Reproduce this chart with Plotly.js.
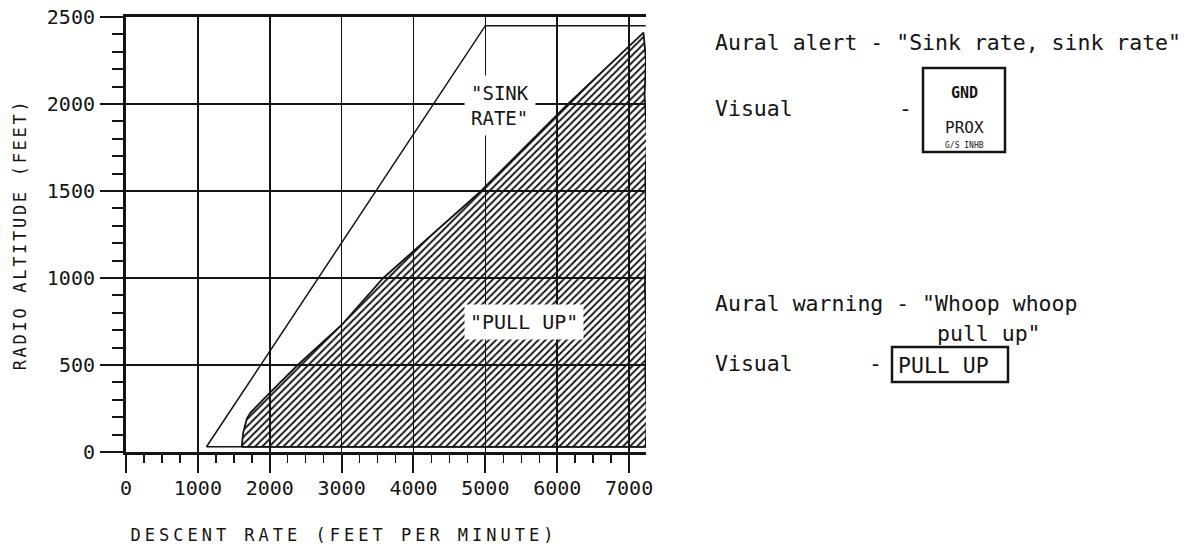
<!DOCTYPE html>
<html>
<head>
<meta charset="utf-8">
<script src="https://cdn.plot.ly/plotly-3.0.1.min.js"></script>
<style>
  html, body { margin: 0; padding: 0; background: #fff; }
  #chart { width: 1191px; height: 553px; }
  .xtitle { letter-spacing: 4px; transform: translate(-42px, 0px); }
  .ytitle { letter-spacing: 2.7px; }
</style>
</head>
<body>
<div id="chart"></div>
<script>
// ---- data ----
const xTickVals = [0, 1000, 2000, 3000, 4000, 5000, 6000, 7000];
const xTickText = ["0", "1000", "2000", "3000", "4000", "5000", "6000", "7000"];
const yTickVals = [0, 500, 1000, 1500, 2000, 2500];
const yTickText = ["0", "500", "1000", "1500", "2000", "2500"];

// "Sink rate" envelope (outer boundary, unfilled)
const sinkRateX = [7230, 1120, 5000, 7230];
const sinkRateY = [30, 30, 2450, 2450];

// "Pull up" envelope (hatched region), incl. torn right edge
const pullUpX = [1610, 1630, 1680, 1730, 2000, 2390, 3000, 3580, 4940, 6150, 7200,
                 7235, 7215, 7250, 7225, 7245, 7220, 7240, 7225, 7250, 7230, 1610];
const pullUpY = [30, 110, 190, 225, 340, 500, 730, 1000, 1500, 2000, 2410,
                 2250, 2050, 1800, 1550, 1250, 950, 700, 450, 200, 30, 30];

const sinkLabel = '"SINK<br>RATE"';
const sinkLabelPos = [5200, 1990];
const pullLabel = '"PULL UP"';
const pullLabelPos = [5535, 750];

const auralAlert = 'Aural alert - "Sink rate, sink rate"';
const auralWarning1 = 'Aural warning - "Whoop whoop';
const auralWarning2 = 'pull up"';
const visualText = 'Visual';

const xTitle = 'DESCENT RATE (FEET PER MINUTE)';
const yTitle = 'RADIO ALTITUDE (FEET)';

// ---- layout helpers (pixel -> paper) ----
const L = 126, W = 520, T = 17, H = 435;
const px = v => (v - L) / W;
const py = v => (T + H - v) / H;

const mono = "DejaVu Sans Mono, monospace";
const ink = "#141414";

const traces = [
  {
    x: pullUpX, y: pullUpY, type: 'scatter', mode: 'lines',
    fill: 'toself',
    fillpattern: { shape: '/', size: 5, solidity: 0.38, fgcolor: ink, bgcolor: 'rgba(0,0,0,0)' },
    line: { color: ink, width: 1.8 },
    hoverinfo: 'skip', showlegend: false
  },
  {
    x: sinkRateX, y: sinkRateY, type: 'scatter', mode: 'lines',
    line: { color: ink, width: 1.5 },
    hoverinfo: 'skip', showlegend: false
  }
];

function txt(x, y, text, size, opts) {
  return Object.assign({
    xref: 'paper', yref: 'paper', x: px(x), y: py(y), text: text,
    showarrow: false, xanchor: 'left', yanchor: 'middle',
    font: { family: mono, size: size, color: ink }
  }, opts || {});
}

const annotations = [
  {
    x: sinkLabelPos[0], y: sinkLabelPos[1], xref: 'x', yref: 'y',
    text: sinkLabel, showarrow: false, align: 'left',
    font: { family: mono, size: 19, color: ink },
    bgcolor: '#ffffff', borderpad: 6
  },
  {
    x: pullLabelPos[0], y: pullLabelPos[1], xref: 'x', yref: 'y',
    text: pullLabel, showarrow: false,
    font: { family: mono, size: 20, color: ink },
    bgcolor: '#ffffff', borderpad: 5
  },
  txt(713, 42, auralAlert, 21.5),
  txt(713, 108, visualText, 21.5),
  txt(905, 108, '-', 21.5, { xanchor: 'center' }),
  txt(964, 93, 'GND', 15, { xanchor: 'center', font: { family: mono, size: 15, color: ink, weight: 'bold' } }),
  txt(964, 128, 'PROX', 16, { xanchor: 'center' }),
  txt(964, 145, 'G/S INHB', 8, { xanchor: 'center' }),
  txt(713, 303, auralWarning1, 21.5),
  txt(935, 333, auralWarning2, 21.5),
  txt(713, 363, visualText, 21.5),
  txt(875, 363, '-', 21.5, { xanchor: 'center' }),
  txt(896, 365, 'PULL UP', 21.5)
];

const shapes = [
  { type: 'rect', xref: 'paper', yref: 'paper', x0: px(923), x1: px(1005), y0: py(152), y1: py(68),
    line: { color: ink, width: 2.5 } },
  { type: 'rect', xref: 'paper', yref: 'paper', x0: px(892), x1: px(1008), y0: py(382), y1: py(347),
    line: { color: ink, width: 2.5 } }
];

const layout = {
  width: 1191, height: 553,
  margin: { l: L, r: 1191 - L - W, t: T, b: 553 - T - H },
  paper_bgcolor: '#ffffff', plot_bgcolor: '#ffffff',
  showlegend: false,
  font: { family: mono, color: ink },
  xaxis: {
    range: [0, 7235], fixedrange: true,
    tickvals: xTickVals, ticktext: xTickText,
    tickfont: { family: mono, size: 20, color: ink },
    ticks: 'outside', ticklen: 18, tickwidth: 2, tickcolor: ink,
    ticklabelstandoff: -2,
    minor: { dtick: 250, ticks: 'outside', ticklen: 8, tickwidth: 1.5, tickcolor: ink, showgrid: false },
    showgrid: true, gridcolor: ink, gridwidth: 1.5,
    showline: true, linecolor: ink, linewidth: 3, mirror: true,
    zeroline: false,
    title: { text: xTitle, standoff: 31, font: { family: mono, size: 17, color: ink } }
  },
  yaxis: {
    range: [0, 2500], fixedrange: true,
    tickvals: yTickVals, ticktext: yTickText,
    tickfont: { family: mono, size: 20, color: ink },
    ticks: 'outside', ticklen: 23, tickwidth: 2.5, tickcolor: ink,
    ticklabelstandoff: 1,
    minor: { dtick: 100, ticks: 'outside', ticklen: 11, tickwidth: 2, tickcolor: ink, showgrid: false },
    showgrid: true, gridcolor: ink, gridwidth: 2,
    showline: true, linecolor: ink, linewidth: 3,
    zeroline: false,
    title: { text: yTitle, standoff: 16, font: { family: mono, size: 17, color: ink } }
  },
  annotations: annotations,
  shapes: shapes
};

Plotly.newPlot('chart', traces, layout, { staticPlot: true, displayModeBar: false });
</script>
</body>
</html>
